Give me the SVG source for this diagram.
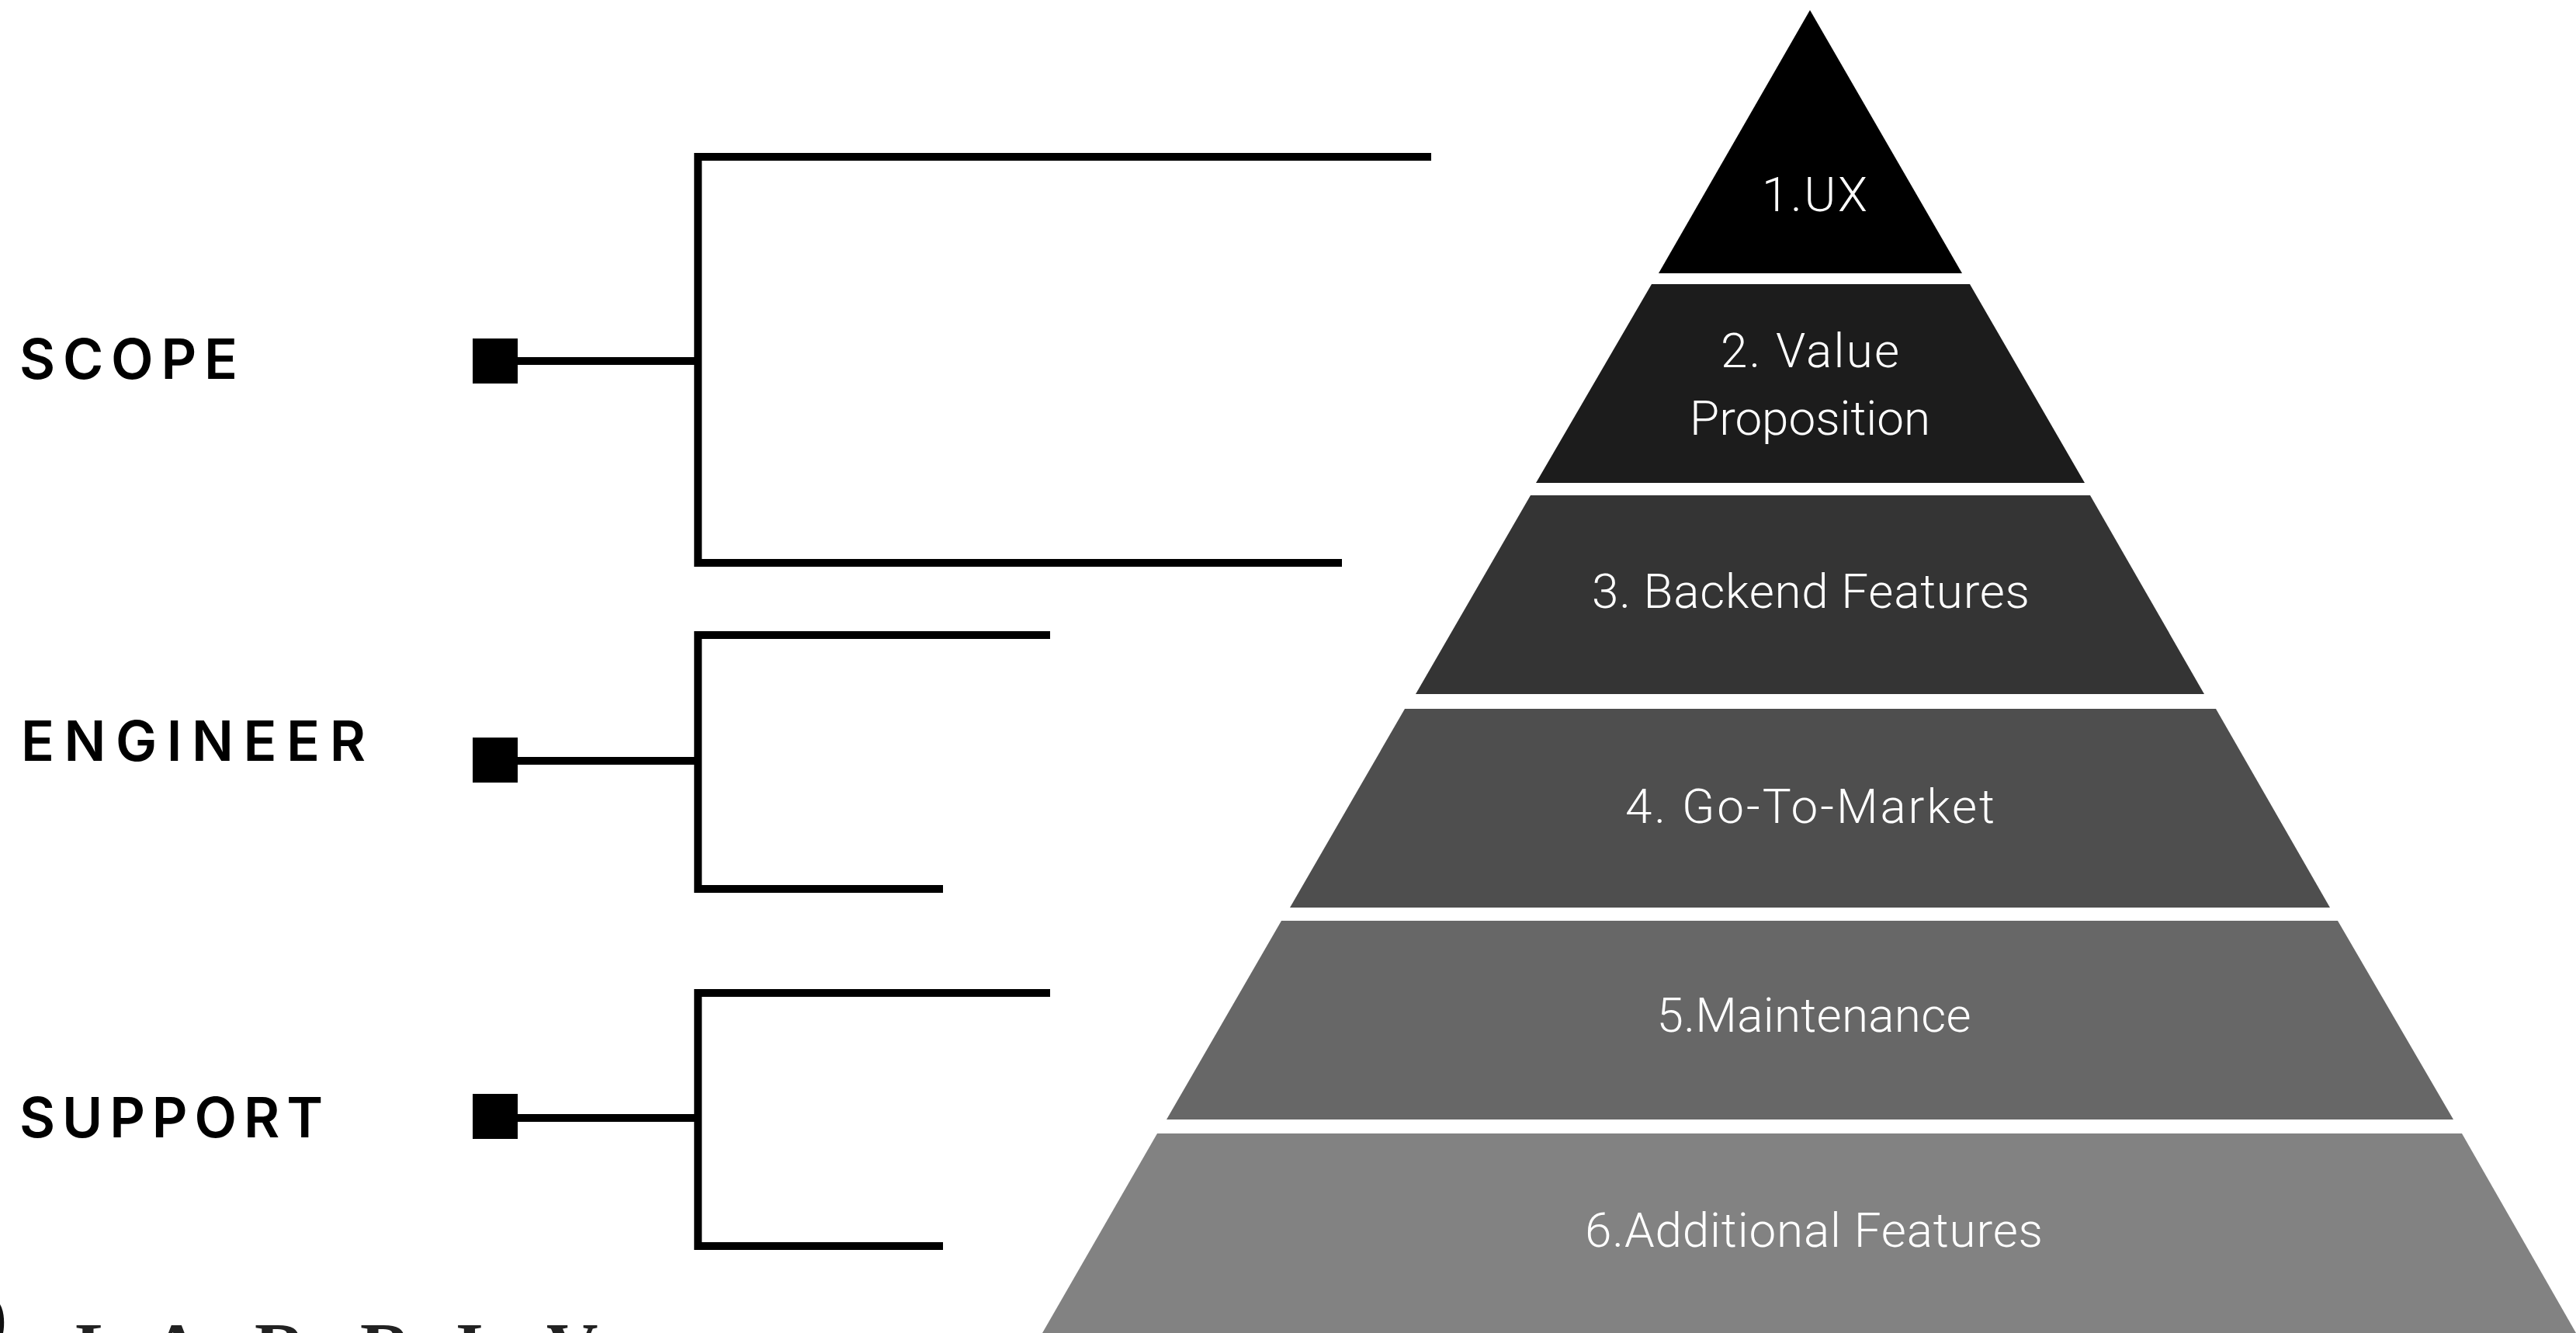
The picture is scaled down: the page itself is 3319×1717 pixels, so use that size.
<svg xmlns="http://www.w3.org/2000/svg" width="3319" height="1717" viewBox="0 0 3319 1717">
<style>
.c{fill:none;stroke:#000;stroke-width:10}
.sq{fill:#000}
.h{font-family:"Inter","Liberation Sans",sans-serif;font-weight:600;font-size:71px;fill:#000}
.t{font-family:"Roboto","Liberation Sans",sans-serif;font-weight:300;font-size:62px;fill:#fff;text-anchor:middle}
.f{font-family:"Liberation Serif",serif;font-weight:700;font-size:92px;fill:#222}
</style>
<rect width="3319" height="1717" fill="#fff"/>
<g id="connectors">
<path class="c" d="M1844 202H899.300V725H1729"/><path class="c" d="M667 465H899"/>
<path class="c" d="M1353 818H899.300V1145H1215"/><path class="c" d="M667 980H899"/>
<path class="c" d="M1353 1279H899.300V1605H1215"/><path class="c" d="M667 1440H899"/>
</g>
<g id="scope"><rect class="sq" x="609" y="436" width="58" height="58"/><text class="h" x="25" y="488" textLength="281">SCOPE</text></g>
<g id="engineer"><rect class="sq" x="609" y="950" width="58" height="58"/><text class="h" x="27" y="980" textLength="444">ENGINEER</text></g>
<g id="support"><rect class="sq" x="609" y="1409" width="58" height="58"/><text class="h" x="25" y="1465" textLength="391">SUPPORT</text></g>
<g id="tier1"><polygon points="2332,13 2528,352 2137,352" fill="#000"/><text class="t" x="2338" y="272" textLength="136">1.UX</text></g>
<g id="tier2"><polygon points="2128,366 2538,366 2686,622 1979,622" fill="#1c1c1c"/><text class="t" x="2332" y="473" textLength="230">2. Value</text><text class="t" x="2332" y="560" textLength="310">Proposition</text></g>
<g id="tier3"><polygon points="1972,638 2693,638 2840,894 1824,894" fill="#343434"/><text class="t" x="2333" y="783" textLength="564">3. Backend Features</text></g>
<g id="tier4"><polygon points="1810,913 2855,913 3002,1169 1662,1169" fill="#4e4e4e"/><text class="t" x="2332" y="1060" textLength="476">4. Go-To-Market</text></g>
<g id="tier5"><polygon points="1651,1186 3012,1186 3161,1442 1503,1442" fill="#676767"/><text class="t" x="2337" y="1329" textLength="405">5.Maintenance</text></g>
<g id="tier6"><polygon points="1491,1460 3172,1460 3319,1717 1343,1717" fill="#828282"/><text class="t" x="2337" y="1606" textLength="590">6.Additional Features</text></g>
<g id="footer"><path d="M0 1680C6 1690 6 1707 4 1717H0Z" fill="#111"/><text class="f" y="1767"><tspan x="97">L</tspan><tspan x="194">A</tspan><tspan x="328">R</tspan><tspan x="464">R</tspan><tspan x="587">I</tspan><tspan x="704">V</tspan></text></g>
</svg>
